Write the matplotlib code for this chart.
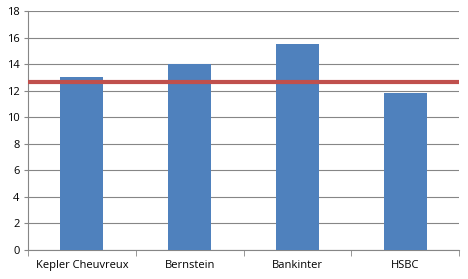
import matplotlib.pyplot as plt
import numpy as np

# Chart data
brokers = ["Kepler Cheuvreux", "Bernstein", "Bankinter", "HSBC"]
targets = [13.0, 14.0, 15.5, 11.8]
reference_level = 12.63
y_ticks = list(range(0, 19, 2))

plt.rcParams['font.family'] = ['Open Sans', 'DejaVu Sans']

fig = plt.figure(figsize=(4.68, 2.79), dpi=100)
ax = fig.add_axes([28 / 468, 1 - 250 / 279, 431 / 468, 239 / 279])

x = np.arange(len(brokers))
ax.bar(x, targets, width=0.4, color='#4F81BD', zorder=3)
ax.axhline(reference_level, color='#C0504D', linewidth=3, zorder=4)

ax.set_xlim(-0.5, len(brokers) - 0.5)
ax.set_ylim(0, 18)
ax.set_yticks(y_ticks)
ax.tick_params(axis='y', labelsize=8, length=3, color='#868686', pad=3)
ax.yaxis.grid(True, color='#868686', linewidth=0.8, zorder=0)

# category labels between boundary tick marks
ax.set_xticks(x)
ax.set_xticklabels(brokers, fontsize=8)
ax.tick_params(axis='x', length=0, pad=7)
ax.set_xticks(np.arange(-0.5, len(brokers)), minor=True)
ax.tick_params(axis='x', which='minor', length=4, color='#868686')

for side in ['top', 'right']:
    ax.spines[side].set_visible(False)
for side in ['left', 'bottom']:
    ax.spines[side].set_color('#868686')

fig.savefig("out.png", dpi=100)
